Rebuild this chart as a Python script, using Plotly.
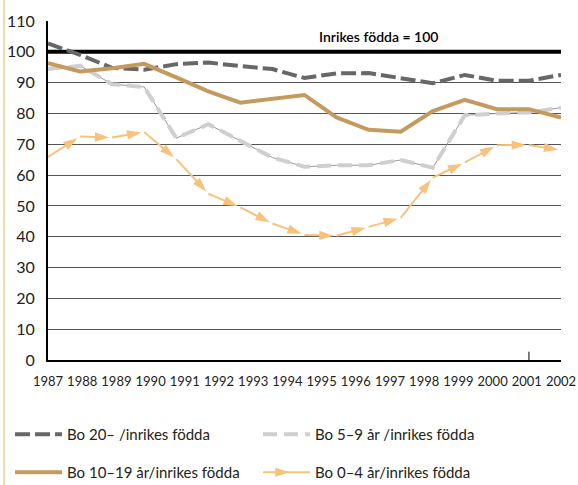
import numpy as np
import plotly.graph_objects as go

# ---- data ----
year_labels = [str(y) for y in range(1987, 2003)]
points = list(range(17))  # 17 observation points drawn across the axis

bo_20 = [102.7, 99.0, 94.8, 94.2, 96.0, 96.5, 95.4, 94.4, 91.5, 93.0, 93.1,
         91.6, 89.8, 92.5, 90.6, 90.6, 92.5]
bo_10_19 = [96.3, 93.6, 94.7, 96.1, 91.7, 87.2, 83.5, 84.6, 86.0, 78.7, 74.7,
            74.1, 80.8, 84.4, 81.4, 81.4, 78.7]
bo_5_9 = [94.4, 95.5, 89.5, 88.6, 72.0, 76.5, 71.1, 65.7, 62.7, 63.2, 63.2,
          64.9, 62.4, 79.4, 80.0, 80.3, 81.9]
bo_0_4 = [65.9, 72.5, 72.2, 74.0, 65.2, 54.0, 49.5, 44.3, 40.6, 40.3, 43.2,
          46.1, 59.2, 64.1, 69.7, 69.8, 68.1]
base_value = 100
annot_text = "Inrikes födda = 100"

names = ["Bo 20– /inrikes födda", "Bo 5–9 år /inrikes födda",
         "Bo 10–19 år/inrikes födda", "Bo 0–4 år/inrikes födda"]

FONT = "Lato"

fig = go.Figure()

fig.add_trace(go.Scatter(x=points, y=bo_20, mode="lines", name=names[0],
                         legend="legend",
                         line=dict(color="#676767", width=4, dash="15px,5px")))
fig.add_trace(go.Scatter(x=points, y=bo_5_9, mode="lines", showlegend=False,
                         hoverinfo="skip",
                         line=dict(color="#9a9a9a", width=1)))
fig.add_trace(go.Scatter(x=points, y=bo_5_9, mode="lines", name=names[1],
                         legend="legend",
                         line=dict(color="#cfcfcf", width=4, dash="14px,7px")))
fig.add_trace(go.Scatter(x=points, y=bo_10_19, mode="lines", name=names[2],
                         legend="legend2",
                         line=dict(color="#C49A5E", width=4)))
fig.add_trace(go.Scatter(x=points, y=bo_0_4, mode="lines+markers", name=names[3],
                         legend="legend2",
                         line=dict(color="#F6C27C", width=2),
                         marker=dict(symbol="arrow", angleref="previous", size=15,
                                     standoff=3, color="#F6C27C")))

shapes = [
    dict(type="line", xref="x", yref="y", x0=points[0], x1=points[-1],
         y0=base_value, y1=base_value, line=dict(color="black", width=4),
         layer="between"),
    dict(type="line", xref="x", yref="y", x0=15, x1=15, y0=0, y1=2.7,
         line=dict(color="black", width=1)),
    dict(type="line", xref="paper", yref="paper", x0=-0.0858, x1=-0.0858,
         y0=1.07, y1=-0.37, line=dict(color="#F5D9A5", width=2)),
]

fig.add_annotation(x=0.645, y=105, xref="paper", yref="y", text=annot_text,
                   showarrow=False,
                   font=dict(family=FONT, size=14, color="black", weight=600))

legend_common = dict(orientation="h", xanchor="left", yanchor="top",
                     entrywidth=186, entrywidthmode="pixels", itemwidth=47,
                     font=dict(family=FONT, size=15, color="#222"),
                     bgcolor="rgba(0,0,0,0)")

fig.update_layout(
    width=578, height=485,
    margin=dict(l=48, r=17, t=21, b=125, autoexpand=False),
    paper_bgcolor="white", plot_bgcolor="white",
    font=dict(family=FONT, color="#222"),
    shapes=shapes,
    legend=dict(x=-0.074, y=-0.171, **legend_common),
    legend2=dict(x=-0.074, y=-0.283, **legend_common),
    xaxis=dict(range=[0, 16], tickmode="array",
               tickvals=np.linspace(0, 16, len(year_labels)),
               ticktext=year_labels, showgrid=False, zeroline=False,
               showline=True, linecolor="black", linewidth=2,
               ticks="", ticklabelstandoff=8, automargin=False,
               tickfont=dict(family=FONT, size=13, color="#222")),
    yaxis=dict(range=[0, 110], dtick=10, showgrid=True, gridcolor="#555",
               gridwidth=1, zeroline=False, showline=True, linecolor="black",
               linewidth=2, ticks="", ticklabelstandoff=8, automargin=False,
               tickfont=dict(family=FONT, size=16, color="#222")),
    showlegend=True,
)

fig.write_html("out.html", config={"displayModeBar": False},
               post_script="document.body.style.margin='0';document.body.style.overflow='hidden';")
